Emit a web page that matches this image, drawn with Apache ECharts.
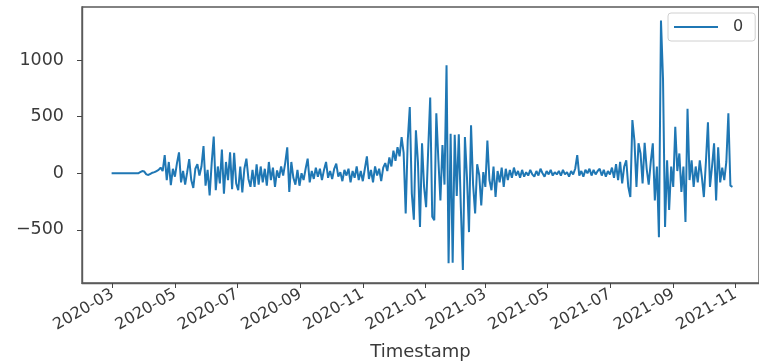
<!DOCTYPE html>
<html>
<head>
<meta charset="utf-8">
<script src="https://cdn.jsdelivr.net/npm/echarts@6/dist/echarts.min.js"></script>
<style>
  html, body { margin: 0; padding: 0; background: #fff; }
  #main { width: 759px; height: 362px; }
</style>
</head>
<body>
<div id="main"></div>
<script>
// one reading every 2 days, starting 2020-02-29
var startDate = [2020, 1, 29];
var stepDays = 2;

// Mar - mid Apr 2020, nearly flat
var quietStart = [0, 0, 0, 0, 0, 0, 0, 0, 0, 0, 0, 0, 0, 0, 10, 20, 15, -10, -15, -5, 5, 10, 20, 30, 50, 20];
// late Apr - Jul 2020
var summer2020 = [160, -60, 100, -105, 40, -30, 90, 185, -80, 20, -100, 10, 125, -60, -130, 40, 80, -20, 60, 240,
  -110, 30, -195, 90, 325, -150, 60, -90, 210, -180, 100, -60, 185, -140, 180, -90, -150, 60, -170, 40,
  130, -50, -120, 30, -120, 80, -100, 60];
// Aug - Oct 2020
var autumn2020 = [-80, 40, -110, 100, -60, 50, -120, 25, -40, 60, -20, 90, 230, -165, 100, -40, -100, 30, -110, 0,
  -60, 40, 130, -80, 20, -50, 50, -30, 40, -60, 30, 100, -40, 20, -50, 40, 85, -30, 10, -70,
  30, -20, 40, -80, 20, -40];
// Nov 2020 - Jan 2021
var winter2020 = [60, -60, 20, -70, 40, 150, -50, 30, -80, 60, -20, 40, -70, 50, 90, 20, 140, 60, 200, 110,
  230, 150, 320, 180, -355, 290, 585, -180, -410, 380, 100, -475, 265, -120, -300, 200, 670, -385, -415];
// Jan - Mar 2021
var burst2021 = [530, 120, -240, 250, -100, 955, -795, 350, -790, 340, -200, 345, -300, -855, 320, -35, -520, 425, -100, -355,
  80, -15, -285, 10, -120, 290, -60, -150, 60, -210, 20, -80];
// Apr - Jul 2021
var spring2021 = [50, -120, 40, -60, 30, -40, 50, -20, 20, -40, 30, -30, 10, -20, 30, -10, -30, 20, -20, 40,
  0, -30, 20, -10, 30, -20, 10, -10, 20, -20, 30, -10, 10, -30, 20, -10, 40, 160, -20, 20,
  -30, 30, 0, 40, -20, 30, -10, 20, 40, -20, 30, -30, 20, -10, 50, -40, 80, -60, 100, -90];
// Jul - Oct 2021
var late2021 = [60, 115, -120, -210, 470, 290, -120, 265, 175, -90, 270, 40, -100, 100, 265, -240, 60, -565, 1350, 835,
  -475, 115, -325, 60, -120, 410, 20, 175, -165, 60, -430, 570, -60, 115, -120, 60, -80, 115, -30, -210,
  100, 450, -120, 60, 265, -240, 230, -80, 50, -60, 100, 530, -110, -120];

var yTicks = [-500, 0, 500, 1000];
var xTickLabels = ['2020-03', '2020-05', '2020-07', '2020-09', '2020-11', '2021-01',
  '2021-03', '2021-05', '2021-07', '2021-09', '2021-11'];

var values = [].concat(quietStart, summer2020, autumn2020, winter2020, burst2021, spring2021, late2021);

var seriesData = values.map(function (v, i) {
  var d = new Date(startDate[0], startDate[1], startDate[2] + i * stepDays);
  return [d.getTime(), v];
});

var xTickValues = xTickLabels.map(function (s) {
  var p = s.split('-');
  return new Date(+p[0], +p[1] - 1, 1).getTime();
});

var chart = echarts.init(document.getElementById('main'), null, { renderer: 'canvas' });

var textColor = '#3a3a3a';
var font = 'DejaVu Sans';
var spine = { color: '#5a5a5a', width: 1.4 };

var option = {
  animation: false,
  grid: {
    left: 82,
    right: 0,
    top: 7,
    bottom: 79,
    outerBoundsMode: 'none',
    containLabel: false,
    show: true,
    borderColor: '#5a5a5a',
    borderWidth: 1.4
  },
  legend: {
    left: 668,
    top: 13,
    padding: [6, 12, 6, 6],
    borderColor: '#d0d0d0',
    borderWidth: 1,
    borderRadius: 3,
    icon: 'rect',
    itemWidth: 44,
    itemHeight: 2,
    textStyle: { fontFamily: font, fontSize: 16, color: textColor, padding: [0, 0, 0, 10] }
  },
  xAxis: {
    type: 'value',
    scale: true,
    min: new Date(2020, 0, 31).getTime(),
    max: new Date(2021, 10, 24).getTime(),
    name: 'Timestamp',
    nameLocation: 'middle',
    nameGap: 60,
    nameTextStyle: { fontFamily: font, fontSize: 18, color: textColor },
    splitLine: { show: false },
    axisLine: { show: true, onZero: false, lineStyle: spine },
    axisTick: {
      show: true,
      length: 5,
      customValues: xTickValues,
      lineStyle: { color: '#444' }
    },
    axisLabel: {
      customValues: xTickValues,
      rotate: 30,
      margin: 10,
      fontFamily: font,
      fontSize: 16,
      color: textColor,
      formatter: function (val) {
        var d = new Date(val);
        var m = d.getMonth() + 1;
        return d.getFullYear() + '-' + (m < 10 ? '0' + m : m);
      }
    }
  },
  yAxis: {
    type: 'value',
    min: -970,
    max: 1470,
    splitLine: { show: false },
    axisLine: { show: true, onZero: false, lineStyle: spine },
    axisTick: {
      show: true,
      length: 5,
      customValues: yTicks,
      lineStyle: { color: '#444' }
    },
    axisLabel: {
      customValues: yTicks,
      margin: 18,
      fontFamily: font,
      fontSize: 17.5,
      color: textColor,
      formatter: function (v) {
        return v < 0 ? '\u2212' + Math.abs(v) : String(v);
      }
    }
  },
  series: [{
    name: '0',
    type: 'line',
    data: seriesData,
    showSymbol: false,
    symbol: 'none',
    sampling: null,
    color: '#1f77b4',
    lineStyle: { width: 2, color: '#1f77b4' }
  }]
};

chart.setOption(option);
</script>
</body>
</html>
